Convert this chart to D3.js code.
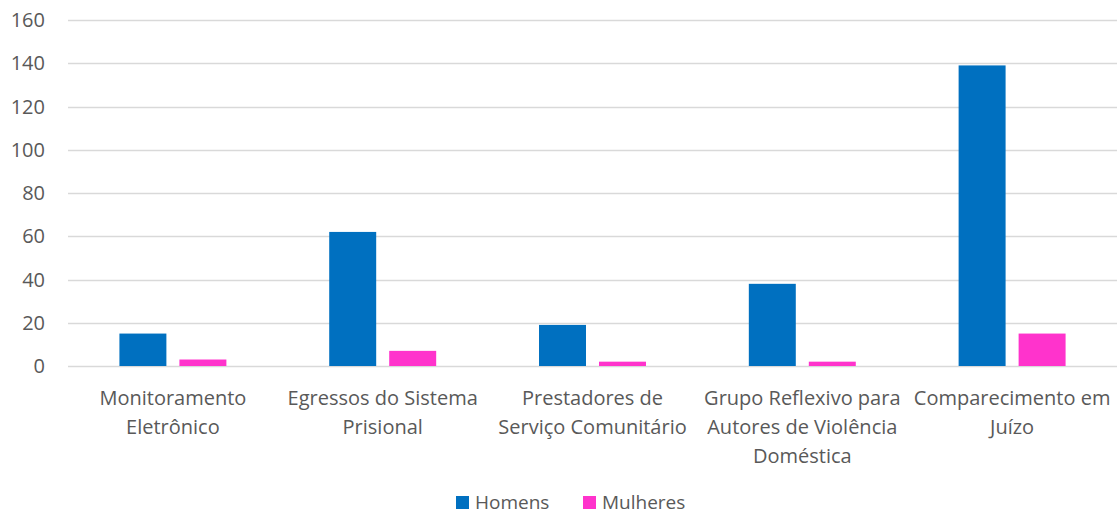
<!DOCTYPE html>
<head>
	<meta charset="utf-8">
	<style>
		body { margin: 0; background: #fff; }
		svg text { font-family: "Open Sans", "Noto Sans", sans-serif; fill: #595959; }
	</style>
	<script src="https://cdnjs.cloudflare.com/ajax/libs/d3/7.8.5/d3.min.js"></script>
</head>
<body>
	<svg width="1119" height="517" font-size="20"></svg>
	<script type="text/javascript">
		// line breaks as in the original axis labels
		var categories = ["Monitoramento\nEletrônico", "Egressos do Sistema\nPrisional", "Prestadores de\nServiço Comunitário", "Grupo Reflexivo para\nAutores de Violência\nDoméstica", "Comparecimento em\nJuízo"];
		var seriesNames = ["Homens", "Mulheres"];
		var homens = [15, 62, 19, 38, 139];
		var mulheres = [3, 7, 2, 2, 15];
		var yTicks = [0, 20, 40, 60, 80, 100, 120, 140, 160];

		var colors = d3.scaleOrdinal().domain(seriesNames).range(["#0070c0", "#ff33cc"]);

		var svg = d3.select("svg"),
			margin = {top: 20, right: 2, bottom: 151, left: 68},
			width = +svg.attr("width") - margin.left - margin.right,
			height = +svg.attr("height") - margin.top - margin.bottom,
			graph = svg.append("g").attr("transform", "translate(" + margin.left + "," + margin.top + ")");

		var data = categories.map(function(c, i){ return {cat: c, Homens: homens[i], Mulheres: mulheres[i]}; });

		var x0 = d3.scaleBand().domain(categories).range([0, width]).padding(0);
		var x1 = d3.scaleBand().domain(seriesNames).range([0, x0.bandwidth()]).paddingInner(0.217).paddingOuter(0.857);
		var y = d3.scaleLinear().domain([0, 160]).range([height, 0]);

		// grid lines
		graph.append("g").selectAll("line").data(yTicks).enter().append("line")
			.attr("x1", 0).attr("x2", width)
			.attr("y1", function(d){ return Math.round(y(d)) + 0.5; })
			.attr("y2", function(d){ return Math.round(y(d)) + 0.5; })
			.attr("stroke", "#d9d9d9").attr("stroke-width", 1.3);

		// y tick labels
		graph.append("g").selectAll("text").data(yTicks).enter().append("text")
			.attr("x", -23).attr("y", function(d){ return y(d); }).attr("dy", "0.35em")
			.attr("text-anchor", "end").text(function(d){ return d; });

		// bars
		graph.append("g").selectAll("g").data(data).enter().append("g")
			.attr("transform", function(d){ return "translate(" + x0(d.cat) + ",0)"; })
			.selectAll("rect").data(function(d){ return seriesNames.map(function(k){ return {key: k, value: d[k]}; }); })
			.enter().append("rect")
			.attr("x", function(d){ return x1(d.key); })
			.attr("width", x1.bandwidth())
			.attr("y", function(d){ return y(d.value); })
			.attr("height", function(d){ return y(0) - y(d.value); })
			.attr("fill", function(d){ return colors(d.key); });

		// category labels
		graph.append("g").selectAll("text").data(categories).enter().append("text")
			.attr("text-anchor", "middle")
			.attr("transform", function(d){ return "translate(" + (x0(d) + x0.bandwidth() / 2) + "," + (height + 39) + ")"; })
			.selectAll("tspan").data(function(d){ return d.split("\n"); }).enter().append("tspan")
			.attr("x", 0).attr("y", function(d, i){ return i * 29; })
			.text(function(d){ return d; });

		// legend
		var legend = svg.append("g").attr("transform", "translate(456,494)")
			.selectAll("g").data(seriesNames).enter().append("g")
			.attr("transform", function(d, i){ return "translate(" + (i * 127) + ",0)"; });
		legend.append("rect").attr("y", 2).attr("width", 13).attr("height", 13).attr("fill", colors);
		legend.append("text").attr("x", 19).attr("y", 8).attr("dy", "0.35em").attr("font-size", 19).text(function(d){ return d; });
	</script>
</body>
